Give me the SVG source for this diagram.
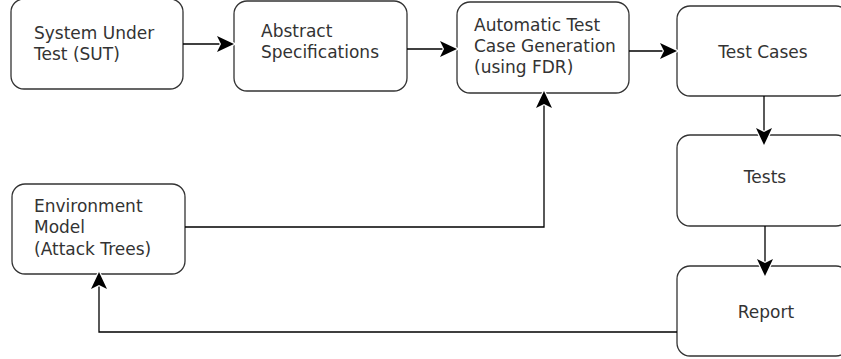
<svg xmlns="http://www.w3.org/2000/svg" width="841" height="359" viewBox="0 0 841 359">
<style>
.box{fill:#fff;stroke:#333;stroke-width:1.3}
.lbl{font-family:"DejaVu Sans",sans-serif;font-size:17px;fill:#333}
.c{text-anchor:middle}
.edge{fill:none;stroke:#000;stroke-width:1.3}
</style>
<defs>
<marker id="ah" markerUnits="userSpaceOnUse" markerWidth="26" markerHeight="24" viewBox="-22 -12 26 24" refX="0" refY="0" orient="auto">
<path d="M0,0 L-17,-8 L-13,0 L-17,8 Z" fill="#000" stroke="#fff" stroke-width="2.5" paint-order="stroke"/>
</marker>
</defs>
<rect width="841" height="359" fill="#fff"/>
<g id="sut"><rect class="box" x="11" y="-1" width="172" height="90" rx="13"/>
<text class="lbl" x="34" y="39">System Under</text><text class="lbl" x="34" y="60">Test (SUT)</text></g>
<g id="abstract"><rect class="box" x="234" y="1" width="173" height="90" rx="13"/>
<text class="lbl" x="261" y="37">Abstract</text><text class="lbl" x="261" y="58">Specifications</text></g>
<g id="atcg"><rect class="box" x="457" y="2" width="172" height="91" rx="13"/>
<text class="lbl" x="474" y="31">Automatic Test</text><text class="lbl" x="474" y="52">Case Generation</text><text class="lbl" x="474" y="73">(using FDR)</text></g>
<g id="testcases"><rect class="box" x="677" y="6" width="172" height="90" rx="13"/>
<text class="lbl c" x="763" y="58">Test Cases</text></g>
<g id="tests"><rect class="box" x="677" y="135" width="172" height="91" rx="13"/>
<text class="lbl c" x="765" y="183">Tests</text></g>
<g id="report"><rect class="box" x="677" y="266" width="172" height="90" rx="13"/>
<text class="lbl c" x="766" y="318">Report</text></g>
<g id="env"><rect class="box" x="12" y="184" width="173" height="90" rx="13"/>
<text class="lbl" x="34" y="212">Environment</text><text class="lbl" x="34" y="233">Model</text><text class="lbl" x="34" y="255">(Attack Trees)</text></g>
<g id="connectors">
<path class="edge" d="M183,44 H234" marker-end="url(#ah)"/>
<path class="edge" d="M407,49 H457" marker-end="url(#ah)"/>
<path class="edge" d="M629,51 H677" marker-end="url(#ah)"/>
<path class="edge" d="M185,227 H544 V91" marker-end="url(#ah)"/>
<path class="edge" d="M764,96 V145" marker-end="url(#ah)"/>
<path class="edge" d="M765,226 V276" marker-end="url(#ah)"/>
<path class="edge" d="M677,332 H99 V272" marker-end="url(#ah)"/>
</g>
</svg>
